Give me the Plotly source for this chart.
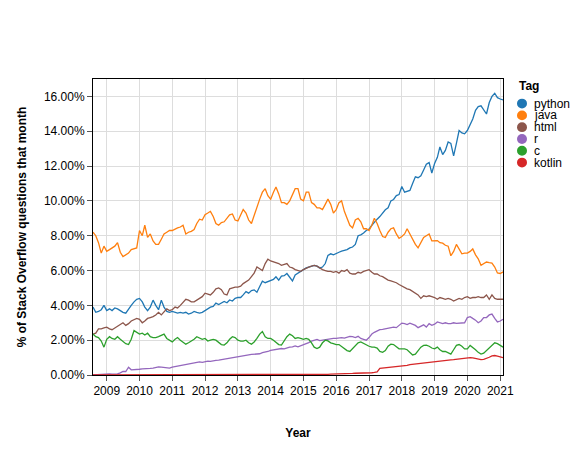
import pandas as pd
import plotly.graph_objects as go

# ---- data (monthly share of Stack Overflow questions, in %) ----
start_month = "2008-08-01"
end_month = "2021-02-01"

tags = ["python", "java", "html", "r", "c", "kotlin"]
colors = ["#1f77b4", "#ff7f0e", "#8c564b", "#9467bd", "#2ca02c", "#d62728"]

python = [
    3.9, 3.6, 3.65, 3.75, 4.0,
    3.7, 3.8, 3.7, 3.85, 3.8, 3.7, 3.6, 3.55, 3.8, 4.0, 4.2, 4.35,
    4.4, 4.2, 3.9, 3.7, 3.9, 4.3, 4.0, 3.75, 4.3, 3.9, 3.65, 3.6,
    3.65, 3.6, 3.55, 3.6, 3.55, 3.6, 3.5, 3.55, 3.65, 3.6, 3.56, 3.6,
    3.7, 3.85, 3.9, 3.94, 4.13, 4.05, 4.15, 4.22, 4.15, 4.31, 4.25, 4.4,
    4.46, 4.45, 4.6, 4.79, 4.7, 4.85, 4.89, 4.75, 5.08, 5.39, 5.3, 5.36,
    5.4, 5.49, 5.64, 5.45, 5.68, 5.7, 5.83, 5.6, 5.4, 5.74, 5.85, 5.98,
    6.05, 6.15, 6.2, 6.24, 6.3, 6.25, 6.15, 6.2, 6.4, 6.87, 6.96, 6.9,
    7.0, 7.05, 7.11, 7.15, 7.2, 7.3, 7.35, 7.5, 8.0, 8.05, 8.15, 8.3,
    8.38, 8.6, 8.8, 8.95, 9.1, 9.3, 9.49, 9.6, 10.0, 10.08, 10.3, 10.36,
    10.83, 10.5, 10.55, 10.6, 11.0, 11.38, 11.33, 11.44, 11.77, 12.1, 12.2, 11.6,
    12.15, 12.5, 13.1, 12.66, 12.9, 13.38, 13.3, 12.59, 13.3, 14.04, 13.9, 13.85,
    14.04, 14.4, 14.7, 15.2, 15.42, 15.46, 15.2, 14.99, 15.65, 16.0, 16.18, 15.93,
    15.85, 15.8,
]

java = [
    8.2, 8.0, 7.6, 7.0, 7.4,
    7.1, 7.2, 7.3, 7.4, 7.6, 7.05, 6.8, 6.9, 7.0, 7.2, 7.25, 7.3,
    8.3, 8.0, 8.6, 7.9, 8.1, 7.7, 7.5, 7.5, 7.8, 8.1, 8.2, 8.3,
    8.3, 8.4, 8.45, 8.5, 8.6, 8.1, 8.2, 8.25, 8.35, 8.7, 8.95, 8.9,
    9.2, 9.3, 9.4, 9.1, 8.7, 8.6, 8.75, 8.8, 9.0, 9.2, 9.25, 8.9,
    8.85, 9.2, 9.5, 9.3, 8.9, 8.7, 9.2, 9.7, 10.1, 10.5, 10.7, 10.3,
    10.1, 10.5, 10.8, 10.4, 9.9, 9.9, 9.8, 10.0, 10.4, 10.7, 10.7, 10.1,
    10.0, 10.5, 10.5, 9.9, 9.8, 9.6, 9.6, 9.5, 9.8, 10.1, 9.8, 9.3,
    9.5, 9.9, 10.0, 9.4, 9.0, 8.6, 8.45, 8.9, 9.0, 8.8, 8.4, 8.4,
    8.3, 8.6, 9.0, 8.7, 8.3, 7.95, 7.9, 8.2, 8.4, 8.45, 8.1, 7.85,
    7.95, 8.1, 8.4, 8.1, 7.75, 7.5, 7.3, 7.6, 7.9, 8.0, 8.1, 7.7,
    7.7, 7.72, 7.6, 7.57, 7.45, 7.4, 6.85, 7.1, 7.5, 7.2, 6.96, 7.0,
    7.0, 7.1, 7.24, 6.9, 6.67, 6.3, 6.4, 6.49, 6.45, 6.43, 6.2, 5.86,
    5.83, 5.92,
]

html = [
    2.35, 2.4, 2.65, 2.65, 2.7,
    2.75, 2.65, 2.6, 2.7, 2.8, 2.9, 3.0, 2.85, 2.95, 3.1, 3.2, 3.25,
    3.2, 3.0, 3.1, 3.25, 3.3, 3.35, 3.45, 3.6, 3.45, 3.65, 3.8, 3.7,
    3.75, 3.9, 3.85, 4.0, 4.15, 4.35, 4.3, 4.2, 4.2, 4.3, 4.45, 4.5,
    4.7, 4.65, 4.6, 4.75, 4.95, 5.0, 4.9, 4.65, 4.6, 4.95, 5.0, 5.05,
    5.05, 5.1, 5.25, 5.35, 5.45, 5.65, 5.85, 6.2, 6.1, 6.0, 6.4, 6.65,
    6.55, 6.5, 6.45, 6.4, 6.3, 6.35, 6.4, 6.2, 6.15, 6.05, 6.0, 5.95,
    6.05, 6.15, 6.2, 6.25, 6.3, 6.25, 6.15, 6.05, 6.0, 5.95, 5.95, 5.9,
    5.95, 5.85, 6.0, 5.95, 6.05, 5.85, 5.8, 5.8, 5.9, 5.85, 5.95, 6.0,
    6.05, 5.9, 5.8, 5.8, 5.7, 5.65, 5.55, 5.45, 5.4, 5.35, 5.3, 5.2,
    5.1, 5.0, 4.95, 4.9, 4.8, 4.7, 4.6, 4.4, 4.55, 4.5, 4.55, 4.5,
    4.45, 4.35, 4.45, 4.4, 4.35, 4.4, 4.35, 4.25, 4.35, 4.4, 4.35, 4.45,
    4.5, 4.4, 4.45, 4.45, 4.5, 4.45, 4.45, 4.6, 4.35, 4.6, 4.4, 4.35,
    4.35, 4.35,
]

r = [
    0.0, 0.01, 0.01, 0.02, 0.05,
    0.08, 0.06, 0.05, 0.04, 0.06, 0.12, 0.2, 0.2, 0.45, 0.3, 0.3, 0.32,
    0.33, 0.35, 0.35, 0.37, 0.38, 0.4, 0.45, 0.47, 0.45, 0.42, 0.42, 0.4,
    0.45, 0.48, 0.5, 0.53, 0.6, 0.6, 0.62, 0.65, 0.7, 0.72, 0.75, 0.73,
    0.77, 0.8, 0.78, 0.82, 0.84, 0.85, 0.88, 0.9, 0.92, 0.97, 1.0, 1.03,
    1.08, 1.1, 1.12, 1.14, 1.16, 1.18, 1.2, 1.18, 1.22, 1.28, 1.3, 1.35,
    1.42, 1.45, 1.47, 1.5, 1.52, 1.5, 1.56, 1.6, 1.62, 1.67, 1.62, 1.68,
    1.72, 1.8, 1.86, 1.95, 2.0, 2.04, 1.97, 2.0, 2.05, 2.05, 2.08, 2.1,
    2.1, 2.12, 2.15, 2.12, 2.16, 2.22, 2.2, 2.15, 2.22, 2.1, 2.05, 2.0,
    2.15, 2.35, 2.45, 2.52, 2.6, 2.62, 2.65, 2.68, 2.7, 2.75, 2.72, 2.85,
    2.98, 2.95, 2.9, 2.98, 2.92, 2.85, 2.72, 2.78, 2.88, 2.75, 2.95, 2.85,
    2.92, 3.05, 3.0, 2.95, 3.0, 2.95, 2.95, 3.0, 2.97, 2.98, 2.98, 3.0,
    3.3, 3.35, 3.25, 3.15, 3.0, 3.1, 3.3, 3.3, 3.45, 3.5, 3.25, 3.05,
    3.1, 3.2,
]

c = [
    2.35, 2.2, 2.15, 1.95, 1.6,
    2.05, 2.2, 2.1, 2.05, 2.2, 2.05, 1.9, 1.8, 1.75, 2.05, 2.55, 2.45,
    2.35, 2.4, 2.3, 2.4, 2.2, 2.15, 2.15, 2.2, 2.3, 2.35, 2.1, 2.0,
    1.9, 2.05, 2.15, 2.0, 1.9, 1.77, 1.85, 1.95, 2.05, 2.2, 2.1, 2.05,
    2.1, 1.95, 2.0, 2.05, 2.0, 1.85, 1.75, 1.72, 1.85, 2.05, 2.2, 2.15,
    2.0, 1.95, 1.95, 2.0, 1.85, 1.77, 1.9, 2.1, 2.35, 2.5, 2.2, 2.1,
    2.1, 2.0, 1.9, 1.75, 1.72, 1.95, 2.2, 2.35, 2.25, 2.1, 2.15, 2.1,
    2.05, 2.1, 2.05, 1.85, 1.6, 1.52, 1.6, 1.85, 2.0, 1.96, 1.85, 1.8,
    1.75, 1.75, 1.65, 1.5, 1.4, 1.35, 1.5, 1.7, 1.85, 1.9, 1.8, 1.7,
    1.65, 1.6, 1.6, 1.55, 1.35, 1.3, 1.4, 1.65, 1.77, 1.75, 1.6, 1.5,
    1.5, 1.5, 1.45, 1.3, 1.15, 1.2, 1.4, 1.6, 1.7, 1.72, 1.65, 1.55,
    1.5, 1.6, 1.45, 1.35, 1.35, 1.25, 1.2, 1.45, 1.7, 1.75, 1.65, 1.5,
    1.5, 1.7, 1.6, 1.45, 1.3, 1.2, 1.25, 1.4, 1.55, 1.75, 1.85, 1.8,
    1.7, 1.6,
]

kotlin = [
    0.0, 0.0, 0.0, 0.0, 0.0,
    0.0, 0.0, 0.0, 0.0, 0.0, 0.0, 0.0, 0.0, 0.0, 0.0, 0.0, 0.0,
    0.0, 0.0, 0.0, 0.0, 0.0, 0.0, 0.0, 0.0, 0.0, 0.0, 0.0, 0.0,
    0.0, 0.0, 0.0, 0.0, 0.0, 0.0, 0.0, 0.0, 0.0, 0.0, 0.0, 0.0,
    0.0, 0.0, 0.0, 0.0, 0.0, 0.0, 0.0, 0.0, 0.0, 0.0, 0.0, 0.0,
    0.01, 0.01, 0.01, 0.01, 0.01, 0.01, 0.01, 0.01, 0.01, 0.01, 0.01, 0.01,
    0.01, 0.01, 0.01, 0.01, 0.01, 0.01, 0.01, 0.01, 0.01, 0.01, 0.01, 0.01,
    0.01, 0.01, 0.01, 0.01, 0.01, 0.02, 0.02, 0.02, 0.03, 0.04, 0.05, 0.05,
    0.05, 0.06, 0.06, 0.07, 0.08, 0.08, 0.09, 0.1, 0.1, 0.11, 0.12, 0.12,
    0.12, 0.13, 0.15, 0.18, 0.38, 0.4, 0.42, 0.43, 0.45, 0.47, 0.47, 0.48,
    0.5, 0.52, 0.55, 0.6, 0.62, 0.63, 0.65, 0.68, 0.7, 0.72, 0.74, 0.75,
    0.77, 0.77, 0.8, 0.82, 0.83, 0.85, 0.87, 0.88, 0.9, 0.9, 0.92, 0.95,
    0.99, 1.0, 0.98, 0.95, 0.92, 0.88, 0.9, 0.95, 1.02, 1.1, 1.12, 1.08,
    1.03, 1.0,
]

y_ticks = [0, 2, 4, 6, 8, 10, 12, 14, 16]
x_tick_years = list(range(2009, 2022))

series = [python, java, html, r, c, kotlin]
months = pd.date_range(start_month, end_month, freq="MS")
for s in series:
    assert len(s) == len(months), (len(s), len(months))

FONT = "Liberation Sans, Arial, sans-serif"

fig = go.Figure()
for tag, col, vals in zip(tags, colors, series):
    fig.add_trace(go.Scatter(
        x=months, y=vals, name=tag, mode="lines",
        line=dict(color=col, width=1.3),
        showlegend=False,
    ))

axis_common = dict(
    showline=True, linecolor="black", linewidth=1, mirror=True,
    showgrid=True, gridcolor="#dddddd", gridwidth=1,
    ticks="outside", ticklen=5, tickcolor="#555555", tickwidth=1,
    tickfont=dict(family=FONT, size=12, color="black"),
    zeroline=False,
)

fig.update_xaxes(
    type="date",
    range=[months[0], months[-1]],
    tickvals=[f"{y}-01-01" for y in x_tick_years],
    ticktext=[str(y) for y in x_tick_years],
    title=dict(text="<b>Year</b>", font=dict(family=FONT, size=12, color="black"), standoff=31),
    **axis_common,
)
fig.update_yaxes(
    range=[0, 17],
    tickvals=y_ticks,
    ticktext=[f"{v:.2f}%" for v in y_ticks],
    title=dict(text="<b>% of Stack Overflow questions that month</b>",
               font=dict(family=FONT, size=12, color="black"), standoff=14),
    **axis_common,
)

# The page body adds an 8px offset, so the figure is made 8px smaller and the
# margins are chosen so the plot area lands at x 93..503, y 79..380 on screen.
OFF = 8
W, H = 587 - OFF, 450 - OFF
L, R, T, B = 93 - OFF, 84, 79 - OFF, 70
pw, ph = W - L - R, H - T - B

def px_to_paper(px, py):
    # px, py are screen pixels (page coordinates)
    return (px - OFF - L) / pw, (H - B - (py - OFF)) / ph

# ---- legend drawn as layout annotations/shapes (compact Vega-style) ----
annotations = []
shapes = []
tx, ty = px_to_paper(517, 86)
annotations.append(dict(text="<b>Tag</b>", x=tx, y=ty, xref="paper", yref="paper",
                        xanchor="left", yanchor="middle", showarrow=False,
                        font=dict(family=FONT, size=12, color="black")))
for k, (tag, col) in enumerate(zip(tags, colors)):
    cy = 104 + k * 12
    cx = 522
    x0, y0 = px_to_paper(cx - 5, cy + 5)
    x1, y1 = px_to_paper(cx + 5, cy - 5)
    shapes.append(dict(type="circle", xref="paper", yref="paper",
                       x0=x0, y0=y0, x1=x1, y1=y1,
                       fillcolor=col, line=dict(width=0)))
    lx, ly = px_to_paper(532, cy)
    annotations.append(dict(text=tag, x=lx, y=ly, xref="paper", yref="paper",
                            xanchor="left", yanchor="middle", showarrow=False,
                            font=dict(family=FONT, size=12, color="black")))

fig.update_layout(
    width=W, height=H,
    margin=dict(l=L, r=R, t=T, b=B, pad=0),
    paper_bgcolor="white", plot_bgcolor="white",
    font=dict(family=FONT, size=12, color="black"),
    showlegend=False,
    annotations=annotations,
    shapes=shapes,
)

fig.write_html("out.html")
